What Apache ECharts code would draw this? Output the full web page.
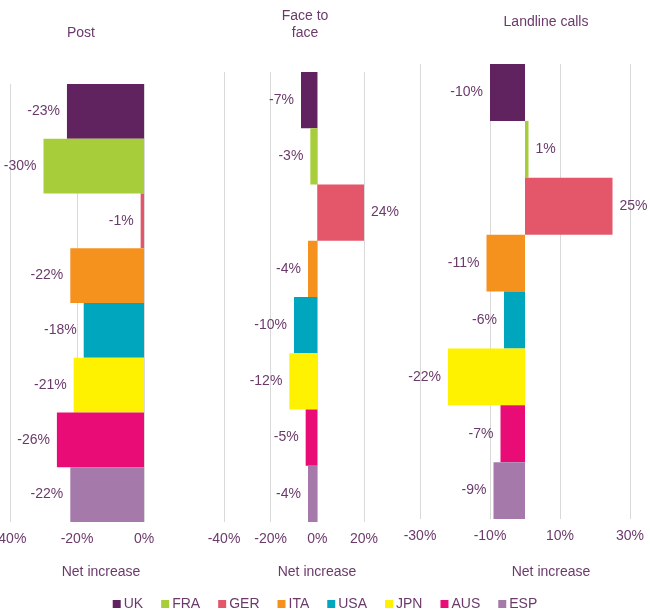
<!DOCTYPE html>
<html>
<head>
<meta charset="utf-8">
<script src="https://cdn.jsdelivr.net/npm/echarts@6/dist/echarts.min.js"></script>
<style>
  html, body { margin: 0; padding: 0; background: #fff; }
</style>
</head>
<body>
<!-- chart container -->
<div id="main" style="width: 650px;height: 614px;"></div>
<script>
// data
var countries = ['UK', 'FRA', 'GER', 'ITA', 'USA', 'JPN', 'AUS', 'ESP']
var post = [-23, -30, -1, -22, -18, -21, -26, -22]
var faceToFace = [-7, -3, 24, -4, -10, -12, -5, -4]
var landlineCalls = [-10, 1, 25, -11, -6, -22, -7, -9]
var panelTitles = ['Post', 'Face to\nface', 'Landline calls']

var palette = ['#60235f', '#a8cd3a', '#e4566a', '#f5921e', '#00a6bd', '#fff200', '#e90c77', '#a57aaa']
var textColor = '#6b3a6b'
var font = 'Liberation Sans, Arial, sans-serif'

var myChart = echarts.init(document.getElementById('main'))

var panels = [
  { data: post, grid: { left: 10, top: 84, width: 134, height: 438 }, min: -40, max: 0 },
  { data: faceToFace, grid: { left: 224, top: 72, width: 140, height: 450 }, min: -40, max: 20 },
  { data: landlineCalls, grid: { left: 420, top: 64, width: 210, height: 455 }, min: -30, max: 30 }
]

var grids = []
var xAxes = []
var yAxes = []
var series = []

panels.forEach(function (p, pi) {
  // keep the grid where it is, labels may run off the edge like the original
  grids.push(Object.assign({ outerBoundsMode: 'none', containLabel: false }, p.grid))
  xAxes.push({
    type: 'value',
    gridIndex: pi,
    min: p.min,
    max: p.max,
    interval: 20,
    axisLine: { show: false },
    axisTick: { show: false },
    splitLine: { lineStyle: { color: '#d9d9d9', width: 1 } },
    axisLabel: {
      color: textColor,
      fontFamily: font,
      fontSize: 14,
      margin: 10,
      formatter: '{value}%'
    }
  })
  yAxes.push({
    type: 'category',
    gridIndex: pi,
    inverse: true,
    data: countries,
    show: false
  })
  // one series per country so the legend works, bars overlap in their own slot
  countries.forEach(function (name, ci) {
    var d = countries.map(function (c, k) {
      if (k !== ci) return '-'
      var v = p.data[k]
      return { value: v, label: { position: v < 0 ? 'left' : 'right' } }
    })
    series.push({
      name: name,
      type: 'bar',
      xAxisIndex: pi,
      yAxisIndex: pi,
      barGap: '-100%',
      barCategoryGap: 0,
      itemStyle: { color: palette[ci] },
      label: {
        show: true,
        distance: 7,
        color: textColor,
        fontFamily: font,
        fontSize: 14,
        formatter: '{c}%'
      },
      data: d
    })
  })
})

var titleStyle = { color: textColor, fontFamily: font, fontSize: 14, fontWeight: 'normal', lineHeight: 17 }
var option = {
  animation: false,
  color: palette,
  title: [
    { text: panelTitles[0], left: 76, top: 20, textAlign: 'center', textStyle: titleStyle },
    { text: panelTitles[1], left: 300, top: 3, textAlign: 'center', textStyle: titleStyle },
    { text: panelTitles[2], left: 541, top: 9, textAlign: 'center', textStyle: titleStyle },
    { text: 'Net increase', left: 96, top: 559, textAlign: 'center', textStyle: titleStyle },
    { text: 'Net increase', left: 312, top: 559, textAlign: 'center', textStyle: titleStyle },
    { text: 'Net increase', left: 546, top: 559, textAlign: 'center', textStyle: titleStyle }
  ],
  legend: {
    data: countries,
    icon: 'rect',
    itemWidth: 8,
    itemHeight: 8,
    itemGap: 18,
    left: 'center',
    top: 592,
    textStyle: { color: textColor, fontFamily: font, fontSize: 14, padding: [0, 0, 0, -2] }
  },
  grid: grids,
  xAxis: xAxes,
  yAxis: yAxes,
  series: series
}

myChart.setOption(option)
</script>
</body>
</html>
